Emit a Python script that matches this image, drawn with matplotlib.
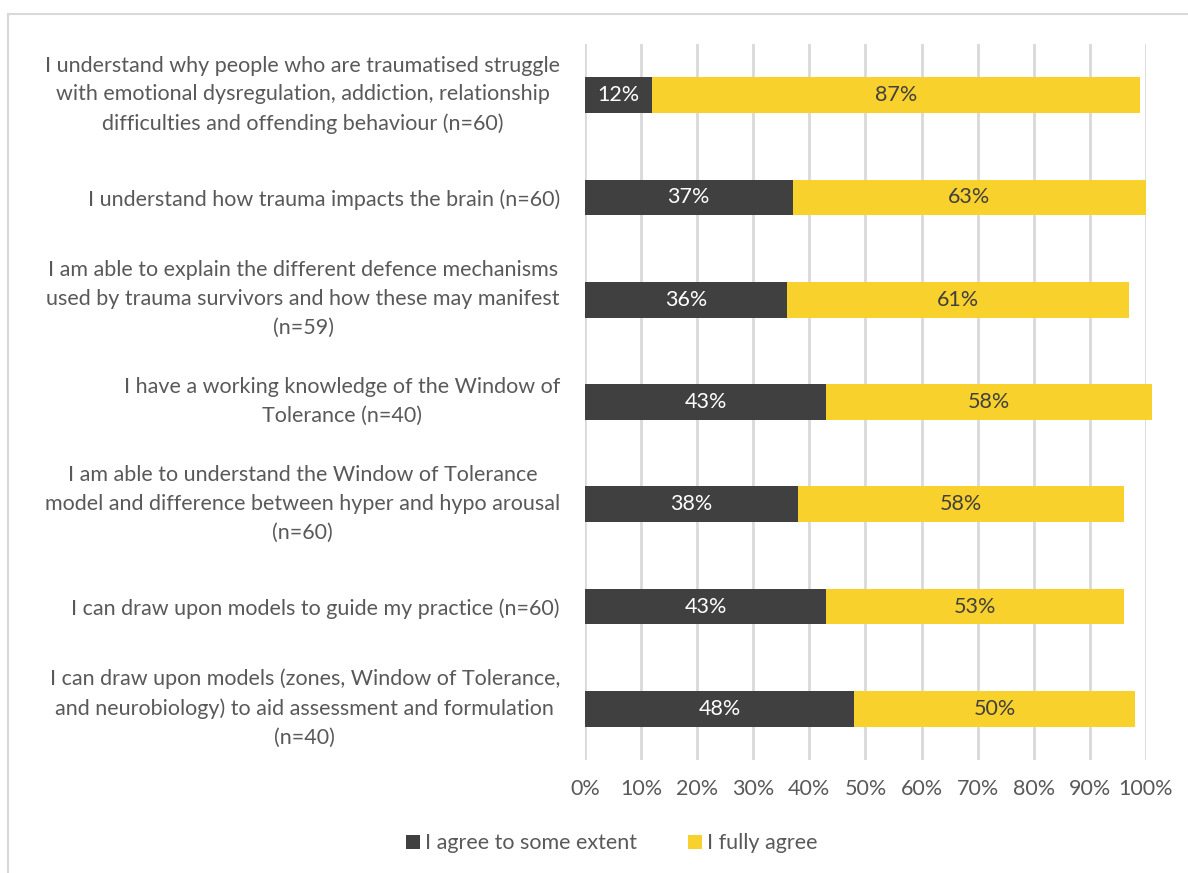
import numpy as np
import matplotlib.pyplot as plt
import matplotlib.transforms as mtransforms
from matplotlib.patches import Rectangle

plt.rcParams['font.family'] = ['Lato', 'DejaVu Sans']

statements = [
    'I understand why people who are traumatised struggle\nwith emotional dysregulation, addiction, relationship\ndifficulties and offending behaviour (n=60)',
    'I understand how trauma impacts the brain (n=60)',
    'I am able to explain the different defence mechanisms\nused by trauma survivors and how these may manifest\n(n=59)',
    'I have a working knowledge of the Window of\nTolerance (n=40)',
    'I am able to understand the Window of Tolerance\nmodel and difference between hyper and hypo arousal\n(n=60)',
    'I can draw upon models to guide my practice (n=60)',
    'I can draw upon models (zones, Window of Tolerance,\nand neurobiology) to aid assessment and formulation\n(n=40)',
]
some_extent = [12, 37, 36, 43, 38, 43, 48]
fully_agree = [87, 63, 61, 58, 58, 53, 50]

dark = '#404040'
yellow = '#F9D12C'
txt = '#595959'
fs = 15.5

fig = plt.figure(figsize=(11.88, 8.73), dpi=100)
ax = fig.add_axes([0.4924, 0.1294, 0.4722, 0.8202])

y = np.arange(len(statements))
some = np.array(some_extent) / 100
full = np.array(fully_agree) / 100

b1 = ax.barh(y, some, height=0.35, color=dark, label='I agree to some extent', zorder=3, clip_on=False)
b2 = ax.barh(y, full, left=some, height=0.35, color=yellow, label='I fully agree', zorder=3, clip_on=False)

for i in range(len(y)):
    ax.text(some[i] / 2, y[i], f'{some_extent[i]}%', ha='center', va='center',
            color='white', fontsize=fs, zorder=4)
    ax.text(some[i] + full[i] / 2, y[i], f'{fully_agree[i]}%', ha='center', va='center',
            color=dark, fontsize=fs, zorder=4)

ax.set_xlim(0, 1)
ax.set_ylim(len(y) - 0.5, -0.5)
ax.set_xticks(np.arange(0, 1.01, 0.1))
ax.set_xticklabels([f'{int(round(v * 100))}%' for v in np.arange(0, 1.01, 0.1)])
ax.set_yticks(y)
ax.set_yticklabels(statements, ha='right', multialignment='center', linespacing=1.55)
ax.tick_params(axis='both', length=0, labelsize=fs, colors=txt)
ax.tick_params(axis='x', pad=14)
ax.tick_params(axis='y', pad=18)
# nudge the wrapped labels up so they sit centred on their bars
nudge = mtransforms.ScaledTranslation(0, 5 / 72, fig.dpi_scale_trans)
for lbl in ax.get_yticklabels():
    if '\n' in lbl.get_text():
        lbl.set_transform(lbl.get_transform() + nudge)
ax.grid(axis='x', color='#D9D9D9', linewidth=2, zorder=0)
for s in ax.spines.values():
    s.set_visible(False)

handles = [b1, b2]
fig.legend(handles, [h.get_label() for h in handles], loc='center', bbox_to_anchor=(0.515, 0.034),
           ncol=2, frameon=False, fontsize=fs, handlelength=0.65, handleheight=0.65,
           handletextpad=0.2, columnspacing=2.4, labelcolor=txt)

# light frame around the chart area
fig.patches.append(Rectangle((8 / 1188, -0.1), 1.2, 1 - 14 / 873 + 0.1, transform=fig.transFigure,
                             fill=False, edgecolor='#D9D9D9', linewidth=1.5))

fig.savefig('out.png', dpi=100)
